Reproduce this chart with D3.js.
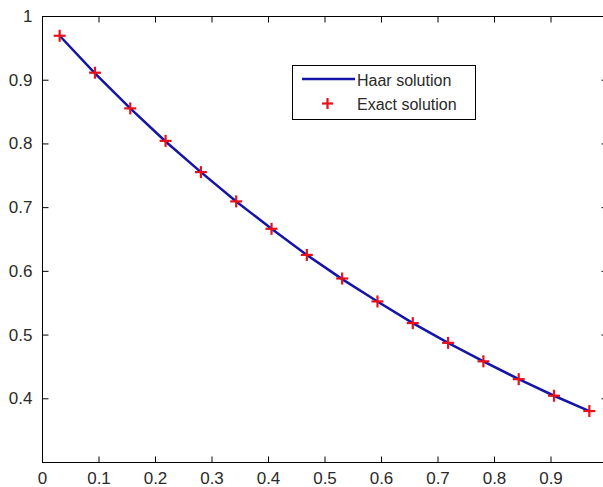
<!DOCTYPE html>
<html><head><meta charset="utf-8">
<script src="https://cdn.jsdelivr.net/npm/d3@7"></script>
<style>body{margin:0;background:#fff}svg{display:block}text{font-family:"Liberation Sans",Arial,sans-serif}</style>
</head><body>
<svg id="c" width="603" height="487"></svg>
<script>
const xs = [0.03125,0.09375,0.15625,0.21875,0.28125,0.34375,0.40625,0.46875,0.53125,0.59375,0.65625,0.71875,0.78125,0.84375,0.90625,0.96875];
const haar = [0.969,0.910,0.855,0.803,0.755,0.709,0.666,0.625,0.587,0.552,0.518,0.487,0.458,0.430,0.404,0.380];
const exact = [0.969,0.911,0.855,0.804,0.755,0.709,0.666,0.625,0.588,0.552,0.518,0.487,0.458,0.430,0.404,0.380];
const xTicks = [0,0.1,0.2,0.3,0.4,0.5,0.6,0.7,0.8,0.9,1];
const xTickLabels = ["0","0.1","0.2","0.3","0.4","0.5","0.6","0.7","0.8","0.9",""];
const yTicks = [0.4,0.5,0.6,0.7,0.8,0.9,1];
const yTickLabels = ["0.4","0.5","0.6","0.7","0.8","0.9","1"];
const legendLabels = ["Haar solution","Exact solution"];

const svg = d3.select("#c");
const L=42, R=607, T=16, B=462;
const x = d3.scaleLinear().domain([0,1]).range([L,R]);
const y = d3.scaleLinear().domain([0.3,1]).range([B,T]);
const tickLen = 6;
svg.append("rect").attr("x",L+0.5).attr("y",T+0.5).attr("width",R-L).attr("height",B-T)
 .attr("fill","#fff").attr("stroke","#000").attr("stroke-width",1);
const xb = svg.append("g").attr("transform",`translate(0,${B+0.5})`)
  .call(d3.axisBottom(x).tickValues(xTicks).tickSizeInner(-tickLen).tickSizeOuter(0).tickPadding(9).tickFormat((d,i)=>xTickLabels[i]));
const xt = svg.append("g").attr("transform",`translate(0,${T+0.5})`)
  .call(d3.axisTop(x).tickValues(xTicks).tickSizeInner(-tickLen).tickSizeOuter(0).tickFormat(""));
const yl = svg.append("g").attr("transform",`translate(${L+0.5},0)`)
  .call(d3.axisLeft(y).tickValues(yTicks).tickSizeInner(-tickLen).tickSizeOuter(0).tickPadding(10).tickFormat((d,i)=>yTickLabels[i]));
const yr = svg.append("g").attr("transform",`translate(${R+0.5},0)`)
  .call(d3.axisRight(y).tickValues(yTicks).tickSizeInner(-tickLen).tickSizeOuter(0).tickFormat(""));
[xb,xt,yl,yr].forEach(a=>{a.select(".domain").remove();a.selectAll("line").attr("stroke","#000");
  a.selectAll("text").attr("font-size",17).attr("fill","#2a2a2a").attr("font-family","Liberation Sans, Arial, sans-serif");});
xb.selectAll("text").attr("dy","0.71em");

const line = d3.line().x((d,i)=>x(xs[i])).y(d=>y(d));
svg.append("path").datum(haar).attr("d",line).attr("fill","none").attr("stroke","#1414a8").attr("stroke-width",2.5);
const ms = 6;
const mk = svg.append("g").selectAll("g").data(exact).join("g")
  .attr("transform",(d,i)=>`translate(${x(xs[i])},${y(d)})`);
mk.append("line").attr("x1",-ms).attr("x2",ms).attr("stroke","#e8101a").attr("stroke-width",2.2);
mk.append("line").attr("y1",-ms).attr("y2",ms).attr("stroke","#e8101a").attr("stroke-width",2.2);

const lg = svg.append("g");
lg.append("rect").attr("x",292.5).attr("y",65.5).attr("width",183).attr("height",54).attr("fill","#fff").attr("stroke","#000");
lg.append("line").attr("x1",302).attr("x2",355).attr("y1",79).attr("y2",79).attr("stroke","#1414a8").attr("stroke-width",2.5);
lg.append("line").attr("x1",322).attr("x2",333).attr("y1",103.5).attr("y2",103.5).attr("stroke","#e8101a").attr("stroke-width",2.2);
lg.append("line").attr("x1",327.5).attr("x2",327.5).attr("y1",98).attr("y2",109).attr("stroke","#e8101a").attr("stroke-width",2.2);
lg.selectAll("text").data(legendLabels).join("text").attr("x",357).attr("y",(d,i)=>80+i*24)
  .attr("dy","0.35em").attr("font-size",16).attr("fill","#2a2a2a").text(d=>d);
</script>
</body></html>
